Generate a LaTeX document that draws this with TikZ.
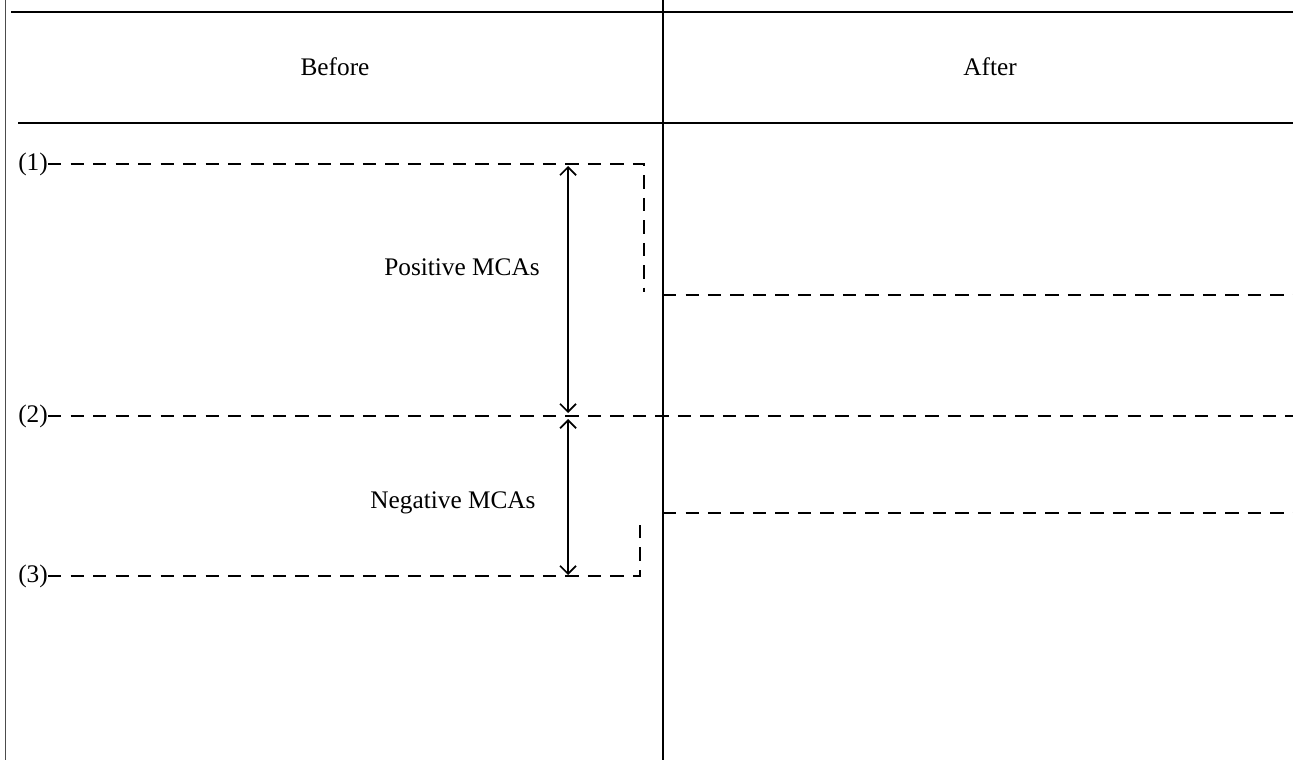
\documentclass[tikz,border=0pt]{standalone}
\usepackage{fontspec}
\setmainfont{Liberation Serif}
\usetikzlibrary{arrows.meta}

\begin{document}
\begin{tikzpicture}[x=0.02cm, y=-0.02cm,
    >={Straight Barb[length=1.6mm, width=3.2mm]},
    every node/.style={font=\fontsize{14.4}{17}\selectfont, inner sep=0pt},
    rule/.style={line width=1.4pt},
    level/.style={line width=1.4pt, dash pattern=on 7.6pt off 5.2pt},
    span/.style={<->, line width=1pt}]
    % --- 参数定义 ---
    \def\W{1293}      % 图宽
    \def\H{760}       % 图高
    \def\xMid{663}    % 中间竖线
    \def\xArr{568}    % 双向箭头位置

    \useasboundingbox (0,0) rectangle (\W,\H);

    % --- 1. 表格框线 ---
    \draw[line width=0.5pt, black!70] (5,0) -- (5,\H);
    \draw[rule] (11,12) -- (\W,12);
    \draw[rule] (18,123) -- (\W,123);
    \draw[rule] (\xMid,0) -- (\xMid,\H);

    % --- 2. 表头 ---
    \node (before) at (335,67) {Before};
    \node (after) at (990,67) {After};

    % --- 3. 左侧: 三条水平虚线 ---
    \node (l1) at (33,164) {(1)};
    \node (l2) at (33,416) {(2)};
    \node (l3) at (33,576) {(3)};

    \coordinate (c1) at (644,164);
    \coordinate (c1d) at (644,292);
    \draw[level] (l1.east) -- (c1) -- (c1d);

    \coordinate (e2) at (\W,416);
    \draw[level] (l2.east) -- (e2);

    \coordinate (c3) at (640,576);
    \coordinate (c3u) at (640,520);
    \draw[level] (l3.east) -- (c3) -- (c3u);

    % --- 4. 右侧虚线 ---
    \coordinate (r1a) at (\xMid,295);
    \coordinate (r1b) at (\W,295);
    \draw[level] (r1a) -- (r1b);
    \coordinate (r3a) at (\xMid,513);
    \coordinate (r3b) at (\W,513);
    \draw[level] (r3a) -- (r3b);

    % --- 5. 双向箭头与标注 ---
    \coordinate (a1) at (\xArr,166);
    \coordinate (a2) at (\xArr,413);
    \coordinate (a3) at (\xArr,419);
    \coordinate (a4) at (\xArr,575);
    \draw[span] (a1) -- (a2);
    \draw[span] (a3) -- (a4);

    \node (pos) at (462,267) {Positive MCAs};
    \node (neg) at (453,503) {Negative MCAs};

\end{tikzpicture}
\end{document}
